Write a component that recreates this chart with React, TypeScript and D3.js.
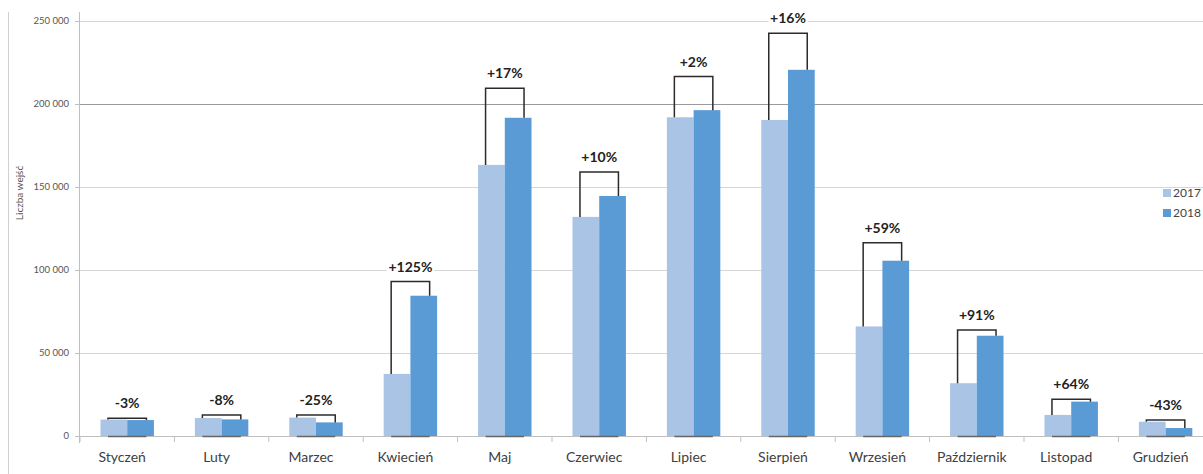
import React from "react";
import * as d3 from "d3";

const months = ["Styczeń", "Luty", "Marzec", "Kwiecień", "Maj", "Czerwiec", "Lipiec", "Sierpień", "Wrzesień", "Październik", "Listopad", "Grudzień"];
const series = ["2017", "2018"];
const values2017 = [9900, 10800, 11100, 37400, 163300, 132000, 192000, 190400, 66000, 31800, 12700, 8600];
const values2018 = [9600, 10000, 8200, 84500, 191700, 144600, 196300, 220600, 105600, 60400, 20700, 4800];
const bracketLevels = [10700, 12600, 12600, 93000, 209500, 159000, 216500, 242600, 116400, 63900, 22100, 9600];
const changeLabels = ["-3%", "-8%", "-25%", "+125%", "+17%", "+10%", "+2%", "+16%", "+59%", "+91%", "+64%", "-43%"];
const yTicks = [0, 50000, 100000, 150000, 200000, 250000];
const yTitle = "Liczba wejść";

const W = 1203;
const H = 474;
const colors: Record<string, string> = { "2017": "#a9c4e5", "2018": "#5b9bd5" };
const FONT = "Lato, 'Open Sans', sans-serif";

const fmt = (v: number) => d3.format(",")(v).replace(/,/g, " ");

export default function App() {
  const left = 80;
  const step = 94.4;
  const x0 = d3.scaleBand<string>().domain(months).range([left, left + step * months.length]).paddingInner(0.434).paddingOuter(0.217);
  const x1 = d3.scaleBand<string>().domain(series).range([0, x0.bandwidth()]);
  const y = d3.scaleLinear().domain([0, 250000]).range([436, 21]);
  const bw = x1.bandwidth();
  const half = x0.bandwidth() * 0.36;

  return (
    <svg width={W} height={H} style={{ position: "absolute", left: 0, top: 0, background: "#fff" }} fontFamily={FONT}>
      <rect x={0} y={0} width={W} height={H} fill="#fff" />
      {/* outer border line */}
      <line x1={8.5} x2={8.5} y1={12} y2={H} stroke="#d0d0d0" />
      {/* gridlines */}
      {yTicks.filter((t) => t > 0).map((t) => (
        <line key={t} x1={left} x2={W} y1={Math.round(y(t)) + 0.5} y2={Math.round(y(t)) + 0.5} stroke={t === 200000 ? "#9a9a9a" : "#d6d6d6"} strokeWidth={1} />
      ))}
      {/* y axis */}
      <line x1={left - 0.5} x2={left - 0.5} y1={12} y2={443} stroke="#bfbfbf" />
      {yTicks.map((t) => (
        <g key={t}>
          <line x1={left - 5} x2={left} y1={Math.round(y(t)) + 0.5} y2={Math.round(y(t)) + 0.5} stroke="#bfbfbf" />
          <text x={left - 11} y={y(t)} dy="0.35em" textAnchor="end" fontSize={9.5} fill="#555">{fmt(t)}</text>
        </g>
      ))}
      <text transform={`translate(23, ${(y(150000) + 6)}) rotate(-90)`} textAnchor="middle" fontSize={10} fill="#555">{yTitle}</text>
      {/* x axis */}
      <line x1={left} x2={W} y1={436.5} y2={436.5} stroke="#bfbfbf" />
      {months.map((m, i) => (
        <line key={m} x1={left + i * step} x2={left + i * step} y1={436} y2={442} stroke="#bfbfbf" />
      ))}
      {/* bars */}
      {months.map((m, i) => (
        <g key={m} transform={`translate(${x0(m)},0)`}>
          {series.map((s) => {
            const v = s === "2017" ? values2017[i] : values2018[i];
            return <rect key={s} x={x1(s)} y={y(v)} width={bw} height={y(0) - y(v)} fill={colors[s]} />;
          })}
        </g>
      ))}
      {/* brackets */}
      {months.map((m, i) => {
        const c = (x0(m) as number) + x0.bandwidth() / 2;
        const by = y(bracketLevels[i]);
        const lx = c - half;
        const rx = c + half;
        const label = changeLabels[i];
        const lw = label.length * 8.3 + 6;
        return (
          <g key={m}>
            <path d={`M${lx},${y(values2017[i])}V${by}H${rx}V${y(values2018[i])}`} fill="none" stroke="#2b2b2b" strokeWidth={1.5} />
            <line x1={lx} x2={rx} y1={436.5} y2={436.5} stroke="#666" strokeWidth={1.5} />
            <rect x={c - lw / 2} y={by - 24} width={lw} height={17} fill="#fff" />
            <text x={c} y={by - 10} textAnchor="middle" fontSize={14} fontWeight="bold" fill="#222">{label}</text>
          </g>
        );
      })}
      {/* month labels */}
      {months.map((m) => (
        <text key={m} x={(x0(m) as number) + x0.bandwidth() / 2 - 5} y={462} textAnchor="middle" fontSize={14} fill="#404040">{m}</text>
      ))}
      {/* legend */}
      {series.map((s, i) => (
        <g key={s} transform={`translate(1163, ${193 + i * 20})`}>
          <rect x={0} y={-4} width={8} height={8} fill={colors[s]} />
          <text x={10} y={0} dy="0.35em" fontSize={12} fill="#444">{s}</text>
        </g>
      ))}
    </svg>
  );
}
